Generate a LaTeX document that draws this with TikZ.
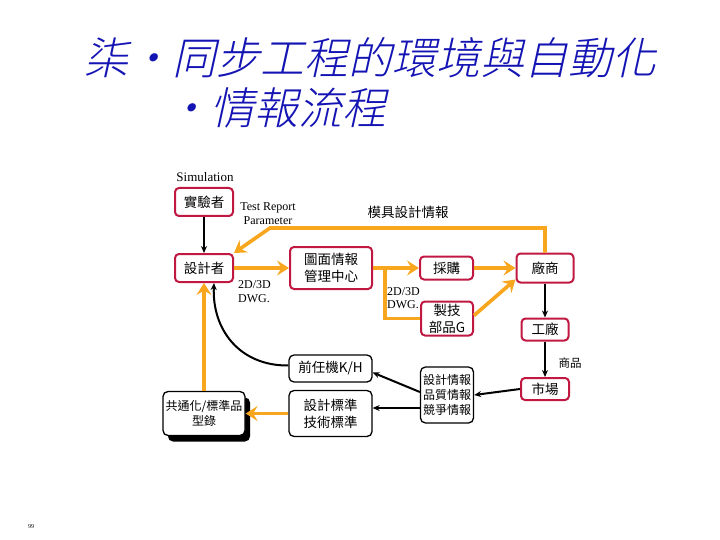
\documentclass[tikz,border=0pt]{standalone}
\usepackage{fontspec}
\setmainfont{Liberation Serif}
\newfontfamily\cjk{Noto Sans CJK TC}
\IfFontExistsTF{Noto Sans CJK TC Light}
  {\newfontfamily\cjktitle[FakeSlant=0.22]{Noto Sans CJK TC Light}}
  {\newfontfamily\cjktitle[FakeSlant=0.22]{Noto Sans CJK TC}}
\usetikzlibrary{arrows.meta,shadows}
\definecolor{crim}{RGB}{192,24,64}
\definecolor{org}{RGB}{247,166,30}
\definecolor{tblue}{RGB}{20,20,180}
\tikzset{
  rbox/.style={draw=crim, line width=2pt, rounded corners=4pt, fill=white, inner sep=0pt, align=center, font=\cjk\fontsize{13.5}{17.5}\selectfont},
  kbox/.style={draw=black, line width=1.3pt, rounded corners=5pt, fill=white, inner sep=0pt, align=center, font=\cjk\fontsize{13.5}{17}\selectfont},
  oarrow/.style={draw=org, line width=3.6pt, -{Stealth[length=12pt,width=15pt,inset=4.5pt]}},
  oline/.style={draw=org, line width=3.6pt},
  barrow/.style={draw=black, line width=2pt, -{Stealth[length=7pt,width=6pt]}},
  lat/.style={font=\fontsize{12}{13}\selectfont, inner sep=0pt},
  cjklab/.style={font=\cjk\fontsize{13.5}{15}\selectfont, inner sep=0pt}
}
\begin{document}
\begin{tikzpicture}[x=1pt,y=-1pt]
\useasboundingbox (0,0) rectangle (720,540);
% title
\node[anchor=west, inner sep=0pt, text=tblue, font=\cjktitle\fontsize{44}{50}\selectfont] (t1) at (84,58) {柒•同步工程的環境與自動化};
\node[anchor=west, inner sep=0pt, text=tblue, font=\cjktitle\fontsize{44}{50}\selectfont] (t2) at (166,108) {•情報流程};
% nodes
\node[rbox, minimum width=58pt, minimum height=28pt] (sim) at (204,202) {實驗者};
\node[rbox, minimum width=58pt, minimum height=28pt] (des) at (204,268) {設計者};
\node[rbox, minimum width=82pt, minimum height=42pt] (tm) at (331,268) {圖面情報\\管理中心};
\node[rbox, minimum width=53pt, minimum height=23pt] (cg) at (446.5,268) {採購};
\node[rbox, minimum width=52pt, minimum height=34pt, font=\cjk\fontsize{13.5}{17}\selectfont] (zj) at (447,318.5) {製技\\部品G};
\node[rbox, minimum width=57pt, minimum height=29pt] (cs) at (545,268) {廠商};
\node[rbox, minimum width=47pt, minimum height=22pt] (gc) at (545,329.5) {工廠};
\node[rbox, minimum width=48pt, minimum height=22pt] (sc) at (545,389) {市場};
\node[kbox, minimum width=83pt, minimum height=27pt] (qr) at (330.5,368.5) {前任機K/H};
\node[kbox, minimum width=82pt, minimum height=44pt, font=\cjk\fontsize{12}{14.5}\selectfont,
      drop shadow={shadow xshift=5pt, shadow yshift=-6pt, fill=black, opacity=1}] (gt) at (204,413.5) {共通化/標準品\\型錄};
\node[kbox, minimum width=83pt, minimum height=46pt, font=\cjk\fontsize{13.5}{17}\selectfont] (bz) at (330.5,413.5) {設計標準\\技術標準};
\node[kbox, minimum width=53pt, minimum height=56pt, font=\cjk\fontsize{12}{15}\selectfont] (inf) at (447,395) {設計情報\\品質情報\\競爭情報};
% labels
\node[lat, font=\fontsize{13}{14}\selectfont] (lsim) at (205,177) {Simulation};
\node[lat, align=center, font=\fontsize{12}{14}\selectfont] (ltr) at (268,214) {Test Report\\Parameter};
\node[cjklab] (lmj) at (408,212) {模具設計情報};
\node[lat, align=left, anchor=west, font=\fontsize{12}{13.5}\selectfont] (ldwg1) at (238,291.5) {2D/3D\\DWG.};
\node[lat, align=left, anchor=west, font=\fontsize{12}{13.5}\selectfont] (ldwg2) at (387,298) {2D/3D\\DWG.};
\node[cjklab, font=\cjk\fontsize{11.5}{13}\selectfont] (lsp) at (570,363) {商品};
\node[inner sep=0pt, font=\fontsize{6}{7}\selectfont] (pg) at (31,527) {99};
% orange connectors
\coordinate (bendA) at (270,228);
\coordinate (br) at (385,268);
\draw[oarrow] (cs.north) |- (bendA) -- (des.north east);
\draw[oarrow] (des.east) -- (tm.west);
\draw[oarrow] (tm.east) -- (cg.west);
\draw[oline] (br) |- (zj.west);
\draw[oarrow] (cg.east) -- (cs.west);
\draw[oarrow] ([yshift=3pt]zj.east) -- ([yshift=4pt]cs.south west);
\draw[oarrow] (bz.west) -- (gt.east);
\draw[oarrow] (gt.north) -- (des.south);
% black connectors
\draw[barrow] (sim.south) -- (des.north);
\draw[barrow] (cs.south) -- (gc.north);
\draw[barrow] (gc.south) -- (sc.north);
\draw[barrow] (sc.west) -- (inf.east);
\draw[barrow] ([yshift=3pt]inf.west) -- ([yshift=-4pt]qr.east);
\draw[barrow] ([yshift=-13pt]inf.west) -- ([yshift=5.5pt]bz.east);
\draw[barrow] ([yshift=3pt]qr.west) .. controls (240,366) and (212,330) .. ([xshift=10pt]des.south);
\end{tikzpicture}
\end{document}
